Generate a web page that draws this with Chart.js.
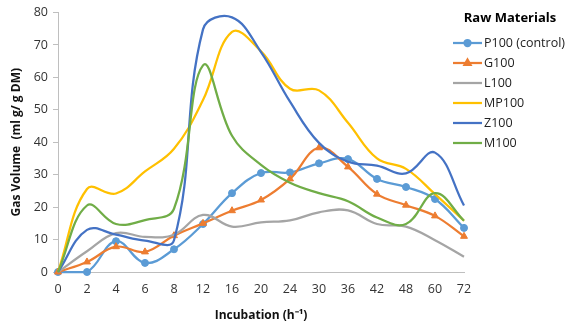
<!DOCTYPE html>
<html>
<head>
<meta charset="utf-8">
<script src="https://cdn.jsdelivr.net/npm/chart.js@4"></script>
<style>
  html, body { margin: 0; padding: 0; background: #fff; }
  #wrap { width: 567px; height: 323px; position: relative; }
</style>
</head>
<body>
<div id="wrap"><canvas id="c" width="567" height="323"></canvas></div>
<script>
const categories = ['0','2','4','6','8','12','16','20','24','30','36','42','48','60','72'];
const seriesNames = ['P100 (control)','G100','L100','MP100','Z100','M100'];
const P100 = [0, 0, 9.5, 2.8, 7, 14.8, 24.3, 30.5, 30.7, 33.5, 34.8, 28.7, 26.2, 22.5, 13.6];
const G100 = [0, 3.1, 7.8, 6.2, 11.2, 15, 18.9, 22.2, 28.7, 38.3, 32.4, 24, 20.6, 17.3, 11];
const L100 = [0, 6.4, 12, 10.8, 11.5, 17.6, 14, 15.3, 15.9, 18.4, 19, 14.8, 14, 9.8, 4.7];
const MP100 = [0, 25.6, 24.2, 31, 38, 53, 74, 68, 56.5, 56, 46, 35, 31.8, 24, 15.8];
const Z100 = [0, 13, 11.5, 9.7, 9.8, 74.8, 78.5, 67.8, 52.5, 39.8, 34, 32.8, 30.4, 36.8, 20.5];
const M100 = [0, 20.5, 14.8, 16, 19.5, 63.7, 42, 33, 27.5, 24.3, 21.8, 16.8, 14.8, 24.3, 15.8];
const yTicks = [0, 10, 20, 30, 40, 50, 60, 70, 80];

const colors = ['#5B9BD5', '#ED7D31', '#A5A5A5', '#FFC000', '#4472C4', '#70AD47'];
const values = [P100, G100, L100, MP100, Z100, M100];
const markers = [
  {style: 'circle', r: 3.5},
  {style: 'triangle', r: 4},
  {style: 'circle', r: 0},
  {style: 'circle', r: 0},
  {style: 'circle', r: 0},
  {style: 'circle', r: 0}
];

const FONT = "'Open Sans', 'Liberation Sans', sans-serif";

const datasets = values.map((v, i) => ({
  label: seriesNames[i],
  data: v,
  borderColor: colors[i],
  backgroundColor: colors[i],
  borderWidth: 2.25,
  tension: 0.4,
  pointStyle: markers[i].style,
  pointRadius: markers[i].r,
  pointBorderWidth: 1,
  pointBackgroundColor: colors[i],
  pointBorderColor: colors[i],
  clip: false,
  order: 10 - i
}));

const legendPlugin = {
  id: 'customLegend',
  afterDraw(chart) {
    const ctx = chart.ctx;
    ctx.save();
    ctx.fillStyle = '#000';
    ctx.font = "bold 13px " + FONT;
    ctx.textAlign = 'center';
    ctx.textBaseline = 'middle';
    ctx.fillText('Raw Materials', 510, 18);
    const rowY = [43, 63, 83, 103, 123, 143];
    chart.data.datasets.forEach((ds, i) => {
      const y = rowY[i];
      ctx.strokeStyle = ds.borderColor;
      ctx.lineWidth = 2.25;
      ctx.beginPath();
      ctx.moveTo(453, y);
      ctx.lineTo(482, y);
      ctx.stroke();
      if (ds.pointRadius > 0) {
        Chart.helpers.drawPoint(ctx, {pointStyle: ds.pointStyle, radius: ds.pointRadius - 0.5, borderWidth: 1, rotation: 0}, 467.5, y);
        ctx.fillStyle = ds.borderColor;
        ctx.fill();
      }
      ctx.fillStyle = '#222';
      ctx.font = "12.5px " + FONT;
      ctx.textAlign = 'left';
      ctx.textBaseline = 'middle';
      ctx.fillText(ds.label, 484, y + 0.5);
    });
    ctx.restore();
  }
};

new Chart(document.getElementById('c'), {
  type: 'line',
  data: { labels: categories, datasets: datasets },
  options: {
    responsive: false,
    animation: false,
    devicePixelRatio: 1,
    layout: { padding: { top: 8, right: 103, left: 0, bottom: 0 } },
    plugins: {
      legend: { display: false },
      tooltip: { enabled: false }
    },
    scales: {
      x: {
        type: 'category',
        offset: false,
        grid: { display: true, drawOnChartArea: false, drawTicks: false, color: '#BFBFBF' },
        border: { display: true, color: '#BFBFBF', width: 1 },
        ticks: { color: '#333', font: { family: FONT, size: 12.5 }, padding: 10, maxRotation: 0, autoSkip: false },
        title: { display: true, text: 'Incubation (h⁻¹)', color: '#111', font: { family: FONT, size: 12, weight: 'bold' }, padding: { top: 3, bottom: 0 } },
        afterFit(scale) { scale.height = 51; }
      },
      y: {
        min: 0, max: 80,
        afterBuildTicks(scale) { scale.ticks = yTicks.map(v => ({ value: v })); },
        grid: { display: true, drawOnChartArea: false, drawTicks: true, tickLength: 5, color: '#BFBFBF' },
        border: { display: true, color: '#BFBFBF', width: 1 },
        ticks: { color: '#333', font: { family: FONT, size: 12.5 }, padding: 5 },
        title: { display: true, text: 'Gas Volume  (ml g/ g DM)', color: '#111', font: { family: FONT, size: 12, weight: 'bold' }, padding: { top: 9, bottom: 0 } },
        afterFit(scale) { scale.width = 58; }
      }
    }
  },
  plugins: [legendPlugin]
});
</script>
</body>
</html>
